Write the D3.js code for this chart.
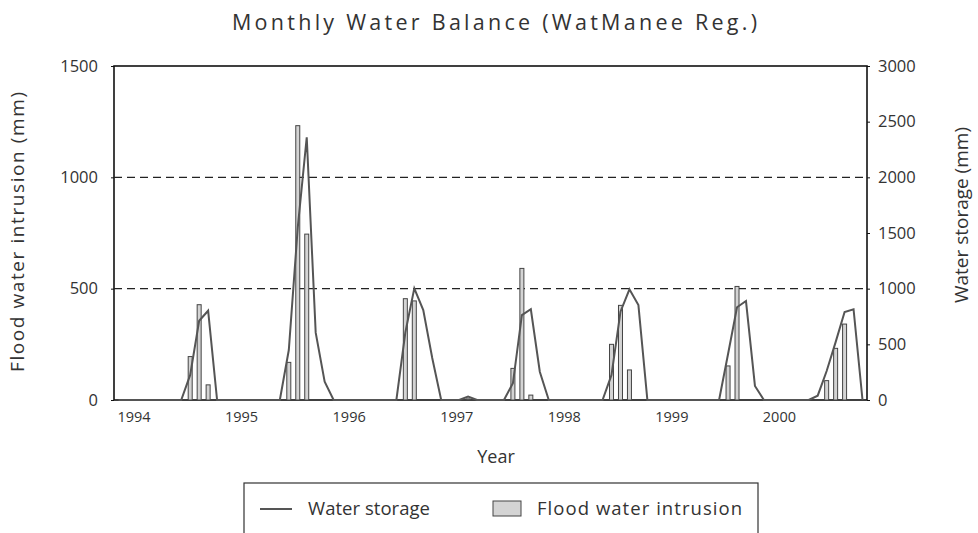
<!DOCTYPE html>
<html>
<head>
<meta charset="utf-8">
<script src="https://cdn.jsdelivr.net/npm/d3@7"></script>
<style>
  html, body { margin: 0; padding: 0; background: #fff; }
  svg { display: block; }
  text { font-family: "Open Sans", "Noto Sans", sans-serif; fill: #333; }
</style>
</head>
<body>
<svg id="chart" width="978" height="533"></svg>
<script>
// ---- data (monthly, Jan 1994 .. Dec 2000) ----
const years = [1994, 1995, 1996, 1997, 1998, 1999, 2000];
const monthIndex = d3.range(84);

// Flood water intrusion (mm), left axis
const floodIntrusion = [
  // 1994
  0, 0, 0, 0, 0, 0, 0, 0, 195, 428, 68, 0,
  // 1995
  0, 0, 0, 0, 0, 0, 0, 169, 1232, 745, 0, 0,
  // 1996
  0, 0, 0, 0, 0, 0, 0, 0, 455, 445, 0, 0,
  // 1997
  0, 0, 0, 5, 0, 0, 0, 0, 142, 591, 22, 0,
  // 1998
  0, 0, 0, 0, 0, 0, 0, 250, 425, 135, 0, 0,
  // 1999
  0, 0, 0, 0, 0, 0, 0, 0, 153, 510, 0, 0,
  // 2000
  0, 0, 0, 0, 0, 0, 0, 87, 232, 341, 0, 0
];

// Water storage (mm), right axis
const waterStorage = [
  // 1994
  0, 0, 0, 0, 0, 0, 0, 0, 225, 712, 802, 0,
  // 1995
  0, 0, 0, 0, 0, 0, 0, 449, 1550, 2360, 605, 165,
  // 1996
  0, 0, 0, 0, 0, 0, 0, 0, 606, 1003, 808, 377,
  // 1997
  0, 0, 0, 30, 0, 0, 0, 0, 150, 763, 815, 254,
  // 1998
  0, 0, 0, 0, 0, 0, 0, 225, 793, 994, 853, 0,
  // 1999
  0, 0, 0, 0, 0, 0, 0, 0, 413, 833, 889, 126,
  // 2000
  0, 0, 0, 0, 0, 0, 39, 260, 520, 790, 815, 0
];

const leftTicks = [0, 500, 1000, 1500];
const rightTicks = [0, 500, 1000, 1500, 2000, 2500, 3000];
const gridValues = [500, 1000];

// ---- layout ----
const W = 978, H = 533;
const m = { left: 114, right: 111, top: 66, bottom: 133 };
const x0 = m.left, x1 = W - m.right, yTop = m.top, yBot = H - m.bottom;

const svg = d3.select("#chart");

const x = d3.scaleBand().domain(monthIndex).range([x0, x1]).paddingInner(0).paddingOuter(0);
const yL = d3.scaleLinear().domain([0, 1500]).range([yBot, yTop]);
const yR = d3.scaleLinear().domain([0, 3000]).range([yBot, yTop]);
const bw = x.bandwidth();
const barW = 4;

// title
svg.append("text")
  .attr("x", 232).attr("y", 30)
  .attr("textLength", 525).attr("lengthAdjust", "spacing")
  .style("font-size", "21.5px")
  .text("Monthly Water Balance (WatManee Reg.)");

// frame
svg.append("rect")
  .attr("x", x0).attr("y", yTop)
  .attr("width", x1 - x0).attr("height", yBot - yTop)
  .attr("fill", "none").attr("stroke", "#111").attr("stroke-width", 1.6);

// grid
svg.append("g").selectAll("line").data(gridValues).join("line")
  .attr("x1", x0).attr("x2", x1)
  .attr("y1", d => yL(d)).attr("y2", d => yL(d))
  .attr("stroke", "#222").attr("stroke-width", 1.2)
  .attr("stroke-dasharray", "8,5");

// axes
const fmt = d3.format("d");
const axL = svg.append("g").attr("transform", `translate(${x0},0)`)
  .call(d3.axisLeft(yL).tickValues(leftTicks).tickFormat(fmt).tickSize(3).tickPadding(13));
const axR = svg.append("g").attr("transform", `translate(${x1},0)`)
  .call(d3.axisRight(yR).tickValues(rightTicks).tickFormat(fmt).tickSize(3).tickPadding(8));
[axL, axR].forEach(a => {
  a.select(".domain").remove();
  a.selectAll(".tick line").attr("stroke", "#111");
  a.selectAll(".tick text").style("font-size", "16.5px").attr("fill", "#333")
    .style("font-family", "'Open Sans', sans-serif");
});

// year labels
svg.append("g").selectAll("text").data(years).join("text")
  .attr("x", (d, i) => x(i * 12) + 20)
  .attr("y", 422)
  .attr("text-anchor", "middle")
  .style("font-size", "14.5px")
  .text(d => d);

// axis titles
svg.append("text")
  .attr("x", 496).attr("y", 463)
  .attr("text-anchor", "middle")
  .style("font-size", "18px")
  .text("Year");

svg.append("text")
  .attr("transform", `translate(24,372) rotate(-90)`)
  .attr("textLength", 280).attr("lengthAdjust", "spacing")
  .style("font-size", "19px")
  .text("Flood water intrusion (mm)");

svg.append("text")
  .attr("transform", `translate(968,303) rotate(-90)`)
  .attr("textLength", 176).attr("lengthAdjust", "spacing")
  .style("font-size", "19px")
  .text("Water storage (mm)");

// bars
svg.append("g").selectAll("rect")
  .data(monthIndex.filter(i => floodIntrusion[i] > 0))
  .join("rect")
  .attr("x", i => x(i) + (bw - barW) / 2)
  .attr("y", i => yL(floodIntrusion[i]))
  .attr("width", barW)
  .attr("height", i => yBot - yL(floodIntrusion[i]))
  .attr("fill", "#d4d4d4").attr("stroke", "#444").attr("stroke-width", 1);

// line
const line = d3.line()
  .x(i => x(i) + bw / 2)
  .y(i => yR(waterStorage[i]));
svg.append("path")
  .datum(monthIndex)
  .attr("d", line)
  .attr("fill", "none").attr("stroke", "#555").attr("stroke-width", 2)
  .attr("stroke-linejoin", "miter");

// legend
const lg = svg.append("g");
lg.append("rect")
  .attr("x", 244).attr("y", 483).attr("width", 514).attr("height", 60)
  .attr("fill", "#fff").attr("stroke", "#333").attr("stroke-width", 1.2);
lg.append("line")
  .attr("x1", 260).attr("x2", 292).attr("y1", 509).attr("y2", 509)
  .attr("stroke", "#555").attr("stroke-width", 2);
lg.append("text")
  .attr("x", 308).attr("y", 515)
  .attr("textLength", 122).attr("lengthAdjust", "spacing")
  .style("font-size", "18.5px")
  .text("Water storage");
lg.append("rect")
  .attr("x", 493).attr("y", 501).attr("width", 28).attr("height", 15)
  .attr("fill", "#d4d4d4").attr("stroke", "#444").attr("stroke-width", 1);
lg.append("text")
  .attr("x", 537).attr("y", 515)
  .attr("textLength", 205).attr("lengthAdjust", "spacing")
  .style("font-size", "18.5px")
  .text("Flood water intrusion");
</script>
</body>
</html>
